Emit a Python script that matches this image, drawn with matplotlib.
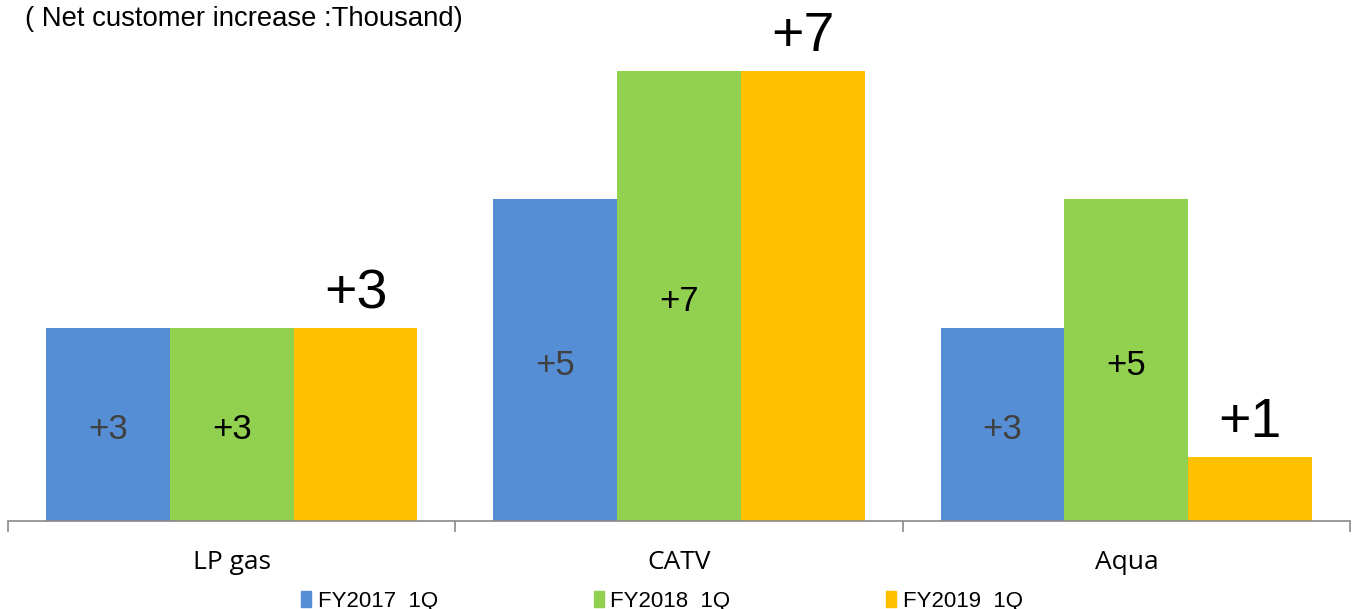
import matplotlib.pyplot as plt
import numpy as np
from matplotlib.patches import Patch

categories = ['LP gas', 'CATV', 'Aqua']
series = ['FY2017  1Q', 'FY2018  1Q', 'FY2019  1Q']
fy2017 = [3, 5, 3]
fy2018 = [3, 7, 5]
fy2019 = [3, 7, 1]

colors = ['#558ED5', '#92D050', '#FFC000']

fig = plt.figure(figsize=(13.56, 6.09), dpi=100)
ax = fig.add_axes([8/1356, 88/609, 1342/1356, 521/609])

x = np.arange(len(categories))
w = 0.2767
vals = [fy2017, fy2018, fy2019]
for i, v in enumerate(vals):
    bars = ax.bar(x + (i - 1) * w, v, w, color=colors[i], label=series[i])
    for b, val in zip(bars, v):
        cx = b.get_x() + b.get_width() / 2
        if i == 2:
            # yellow labels sit above the bars, bigger
            ax.text(cx, val + 0.52, '+%d' % val, ha='center', va='center',
                    fontsize=40, family='Liberation Sans', color='black')
        else:
            ax.text(cx, val / 2 - 0.08, '+%d' % val, ha='center', va='center',
                    fontsize=25, family='Liberation Sans',
                    color='#404040' if i == 0 else 'black')

ax.set_xlim(-0.5, 2.5)
ax.set_ylim(0, 8.1)
for s in ['top', 'right', 'left']:
    ax.spines[s].set_visible(False)
ax.spines['bottom'].set_color('#898989')
ax.spines['bottom'].set_linewidth(1.2)
ax.set_yticks([])

ax.set_xticks([-0.5, 0.5, 1.5, 2.5])
ax.set_xticklabels([])
ax.tick_params(axis='x', length=8, color='#898989', width=1.2)
ax.set_xticks(x, minor=True)
ax.set_xticklabels(categories, minor=True, fontsize=19, family='Open Sans')
ax.tick_params(axis='x', which='minor', length=0, pad=21)

fig.text(25/1356, 1 - 19/609, '( Net customer increase :Thousand)', fontsize=19.8,
         family='Liberation Sans', va='center', ha='left')

handles = [Patch(color=c) for c in colors]
leg = fig.legend(handles, series, loc='center', ncol=3,
                 bbox_to_anchor=(662/1356, 1 - 601/609), frameon=False,
                 prop={'family': 'Liberation Sans', 'size': 16},
                 handlelength=0.45, handleheight=0.7, handletextpad=0.3,
                 columnspacing=7.0)

fig.savefig('out.png', dpi=100)
